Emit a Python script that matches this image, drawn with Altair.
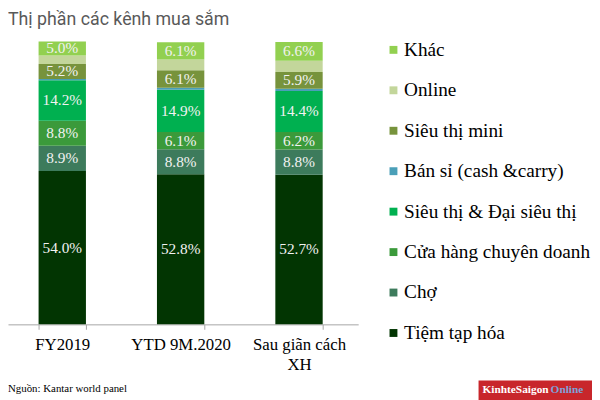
import altair as alt
import pandas as pd

# ---- data ----
periods = ["FY2019", "YTD 9M.2020", "Sau giãn cách XH"]
# channels bottom -> top of the stack
channels = [
    "Tiệm tạp hóa",
    "Chợ",
    "Cửa hàng chuyên doanh",
    "Siêu thị & Đại siêu thị",
    "Bán sỉ (cash &carry)",
    "Siêu thị mini",
    "Online",
    "Khác",
]
tiem_tap_hoa = [54.0, 52.8, 52.7]
cho = [8.9, 8.8, 8.8]
cua_hang = [8.8, 6.1, 6.2]
sieu_thi = [14.2, 14.9, 14.4]
ban_si = [0.5, 0.7, 0.8]
sieu_thi_mini = [5.2, 6.1, 5.9]
online = [3.0, 3.8, 4.0]
khac = [5.0, 6.1, 6.6]
series = [tiem_tap_hoa, cho, cua_hang, sieu_thi, ban_si, sieu_thi_mini, online, khac]
show_label = [True, True, True, True, False, True, False, True]
colors = ["#023502", "#3d7b5c", "#3b9a3b", "#00b050", "#4a9fb8", "#77933c", "#c3d69b", "#92d050"]

rows = []
for ci, (ch, vals, show) in enumerate(zip(channels, series, show_label)):
    for p, v in zip(periods, vals):
        rows.append({"period": p, "channel": ch, "value": v, "rank": ci,
                     "label": f"{v:.1f}%" if show else ""})
df = pd.DataFrame(rows)

legend_order = channels[::-1]
legend_colors = colors[::-1]

serif = "Liberation Serif"

base = alt.Chart(df).transform_stack(
    stack="value", groupby=["period"],
    sort=[alt.SortField("rank", order="ascending")], as_=["y0", "y1"]
).transform_calculate(mid="(datum.y0 + datum.y1) / 2")

xscale = alt.Scale(paddingInner=0.6, paddingOuter=0.2792, align=0.4627)
x_enc = alt.X(
    "period:N", sort=periods, scale=xscale,
    axis=alt.Axis(
        title=None, labelAngle=0, domainColor="#a6a6a6", tickColor="#a6a6a6",
        tickSize=5, tickBand="extent", labelFont=serif, labelFontSize=17,
        labelColor="#000000", labelPadding=8, labelLineHeight=20,
        labelExpr="datum.label == 'Sau giãn cách XH' ? ['Sau giãn cách', 'XH'] : datum.label",
    ),
)
yscale = alt.Scale(domain=[0, 100], nice=False, zero=True)

bars = base.mark_bar().encode(
    x=x_enc,
    y=alt.Y("y0:Q", scale=yscale, axis=None),
    y2="y1:Q",
    color=alt.Color(
        "channel:N",
        scale=alt.Scale(domain=legend_order, range=legend_colors),
        legend=alt.Legend(
            title=None, orient="none", legendX=381, legendY=0,
            symbolType="square", symbolSize=64, symbolStrokeWidth=0,
            labelFont=serif, labelFontSize=19.5, labelColor="#000000",
            rowPadding=20, padding=0, labelOffset=1, labelLimit=300,
        ),
    ),
)

labels = base.transform_filter("datum.label != ''").mark_text(
    font=serif, fontSize=15.5, color="#f2f2f2", baseline="middle", align="center"
).encode(
    x=alt.X("period:N", sort=periods, scale=xscale),
    y=alt.Y("mid:Q", scale=yscale),
    text="label:N",
)

one = pd.DataFrame({"t": ["Thị phần các kênh mua sắm"]})
title = alt.Chart(one).mark_text(
    font="Roboto", fontSize=18, color="#595959", align="left", baseline="alphabetic"
).encode(x=alt.value(0), y=alt.value(-15), text="t:N")

src = pd.DataFrame({"t": ["Nguồn: Kantar world panel"]})
footer = alt.Chart(src).mark_text(
    font=serif, fontSize=11, color="#000000", align="left", baseline="alphabetic"
).encode(x=alt.value(0), y=alt.value(357), text="t:N")

logo_box = alt.Chart(one).mark_rect(color="#c8262b").encode(
    x=alt.value(477), x2=alt.value(600), y=alt.value(345), y2=alt.value(370)
)
logo1 = alt.Chart(pd.DataFrame({"t": ["KinhteSaigon"]})).mark_text(
    font=serif, fontSize=11.5, fontWeight="bold", color="#ffffff", align="left", baseline="alphabetic"
).encode(x=alt.value(481), y=alt.value(358), text="t:N")
logo2 = alt.Chart(pd.DataFrame({"t": ["Online"]})).mark_text(
    font=serif, fontSize=11.5, fontWeight="bold", color="#7fa0d8", align="left", baseline="alphabetic"
).encode(x=alt.value(550), y=alt.value(358), text="t:N")

chart = alt.layer(bars, labels, title, footer, logo_box, logo1, logo2).properties(
    width=355, height=288,
    autosize=alt.AutoSizeParams(type="none"),
    padding={"left": 0, "top": 30, "right": 237, "bottom": 74},
).configure_view(stroke=None)

chart.save("out.html", embed_options={"renderer": "svg", "actions": False})
